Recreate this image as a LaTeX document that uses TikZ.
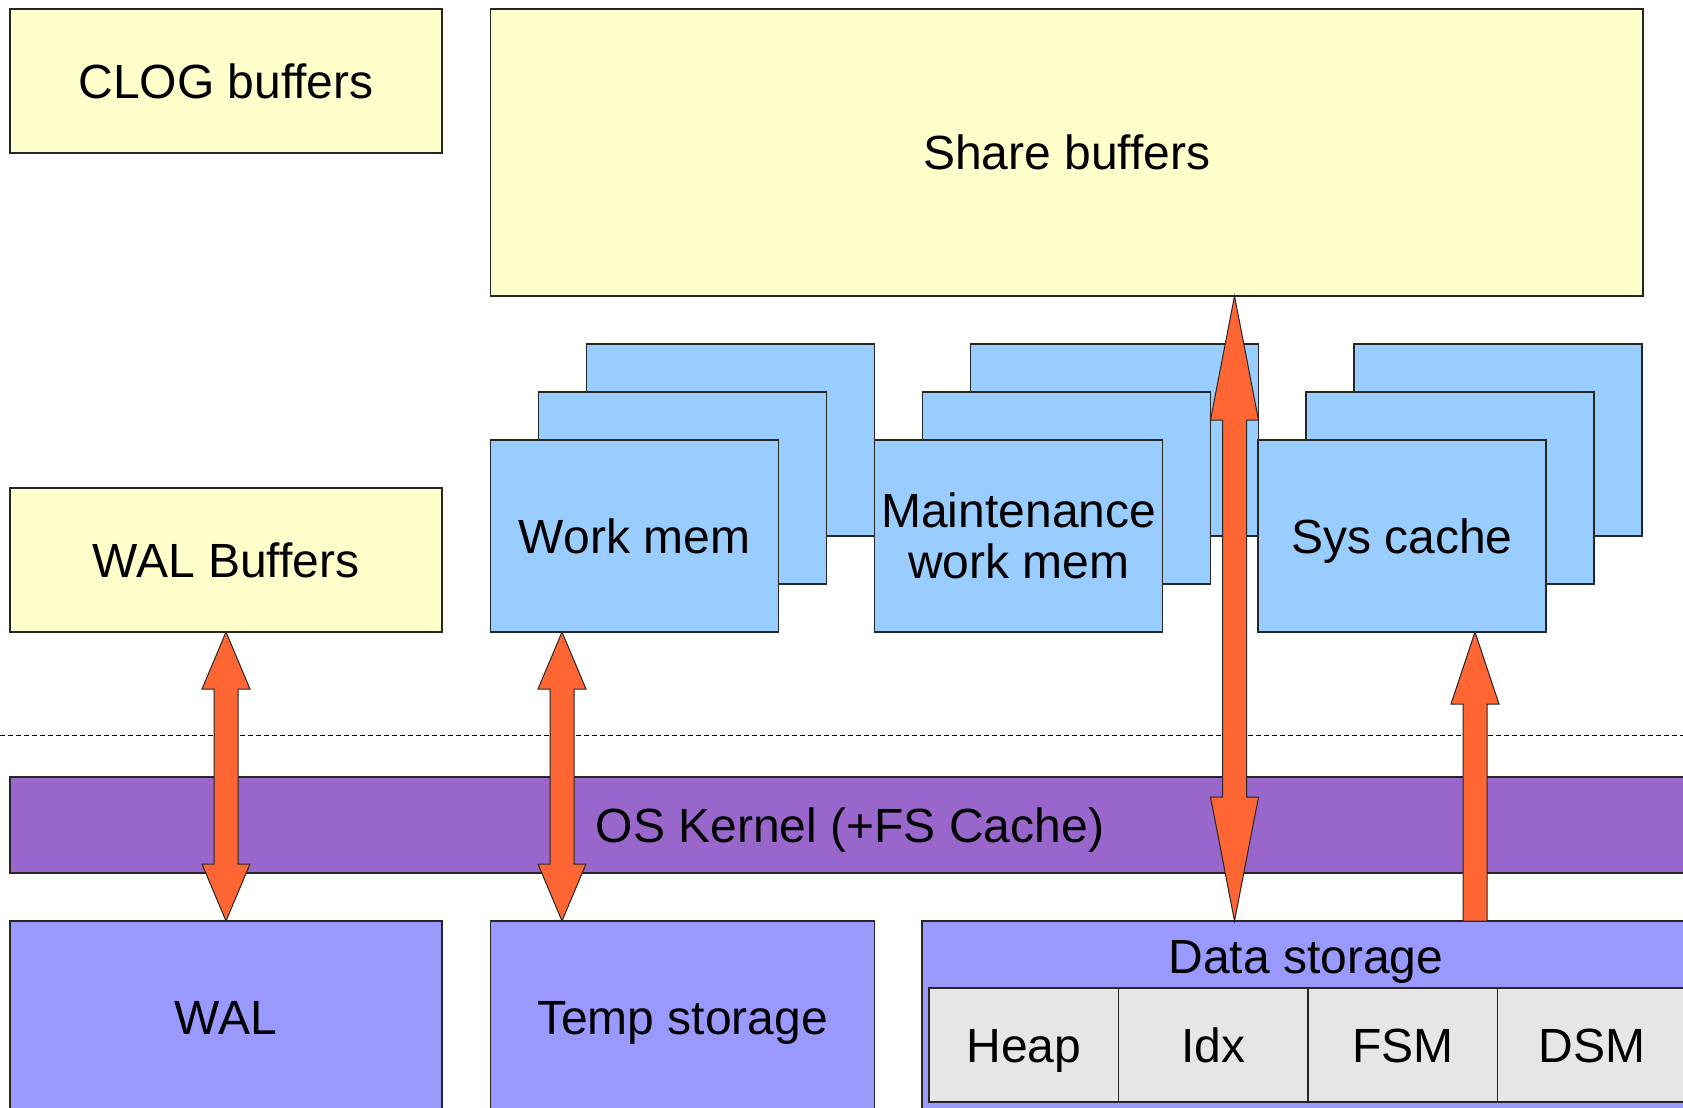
\documentclass[tikz,border=0pt]{standalone}
\usepackage{fontspec}
\setmainfont{Liberation Sans}
\usetikzlibrary{positioning, calc}

\definecolor{bufyellow}{HTML}{FFFFCC}
\definecolor{memblue}{HTML}{99CCFF}
\definecolor{kernpurple}{HTML}{9966CC}
\definecolor{diskblue}{HTML}{9999FF}
\definecolor{cellgray}{HTML}{E6E6E6}
\definecolor{floworange}{HTML}{FF6633}

% block arrows: tip at #1 and #2, head length #3
\newcommand{\twoway}[3]{%
  \draw[flow] (#1) -- ++(24,#3) -- ++(-12,0) -- ($(#2)+(12,-#3)$) -- ++(12,0) -- (#2)
    -- ++(-24,-#3) -- ++(12,0) -- ($(#1)+(-12,#3)$) -- ++(-12,0) -- cycle;}
\newcommand{\oneway}[3]{%
  \draw[flow] (#1) -- ++(24,#3) -- ++(-12,0) -- ($(#2)+(12,0)$) -- ($(#2)+(-12,0)$)
    -- ($(#1)+(-12,#3)$) -- ++(-12,0) -- cycle;}

\begin{document}
\begin{tikzpicture}[x=0.5pt, y=-0.5pt,
    box/.style={rectangle, draw=black!85, line width=0.6pt, inner sep=0pt, outer sep=0pt,
                anchor=north west, align=center, font=\fontsize{24}{25.8}\selectfont},
    one/.style={text height=17.3pt, text depth=0pt},
    buf/.style={box, one, fill=bufyellow, minimum width=216pt, minimum height=72pt},
    mem/.style={box, fill=memblue, minimum width=144pt, minimum height=96pt},
    disk/.style={box, one, fill=diskblue, minimum height=96.5pt},
    cell/.style={box, one, fill=cellgray, minimum width=94.75pt, minimum height=57pt},
    txt/.style={inner sep=0pt, font=\fontsize{24}{25.8}\selectfont},
    flow/.style={draw=black!85, line width=0.5pt, fill=floworange},
    sep/.style={draw=black, line width=0.5pt, dash pattern=on 2.3pt off 1.7pt}
]
    \useasboundingbox (0,0) rectangle (1683,1108);
    \clip (0,0) rectangle (1683,1108);

    \draw[sep] (0,735) -- (1683,735);

    \node[buf] (clog)  at (10,9)   {CLOG buffers};
    \node[buf, minimum width=576.25pt, minimum height=143.5pt] (share) at (490.5,9) {Share buffers};
    \node[buf] (wbuf)  at (10,488) {WAL Buffers};

    % stacked copies behind the memory areas
    \foreach \n/\x in {work/490.5, maint/874.7, sys/1258}
        \foreach \k in {2,1}
            \node[mem] (\n\k) at (\x+48*\k, 440-48*\k) {};
    \node[mem, one] (work)  at (490.5,440) {Work mem};
    \node[mem]      (maint) at (874.7,440) {Maintenance\\work mem};
    \node[mem, one] (sys)   at (1258,440)  {Sys cache};

    \node[box, one, fill=kernpurple, minimum width=840pt, minimum height=48pt] (kernel) at (10,777) {OS Kernel (+FS Cache)};

    \node[disk, minimum width=216pt] (wal)  at (10,921)    {WAL};
    \node[disk, minimum width=192.1pt] (temp) at (490.5,921) {Temp storage};
    \node[disk, minimum width=384pt] (data) at (922,921)  {};
    \node[txt, anchor=base] (datalbl) at ($(data.north)+(0,52)$) {Data storage};

    \node[cell] (heap) at (929,988) {Heap};
    \node[cell, right=0pt of heap] (idx) {Idx};
    \node[cell, right=0pt of idx]  (fsm) {FSM};
    \node[cell, right=0pt of fsm]  (dsm) {DSM};

    \coordinate (c2) at (562,0);
    \coordinate (c3) at (1234.5,0);
    \coordinate (c4) at (1475,0);
    \coordinate (a2t) at (work.south -| c2);
    \coordinate (a2b) at (temp.north -| c2);
    \coordinate (a3t) at (share.south -| c3);
    \coordinate (a3b) at (data.north -| c3);
    \coordinate (a4t) at (sys.south -| c4);
    \coordinate (a4b) at (data.north -| c4);

    \twoway{wbuf.south}{wal.north}{57}
    \twoway{a2t}{a2b}{57}
    \twoway{a3t}{a3b}{124}
    \oneway{a4t}{a4b}{72}
\end{tikzpicture}
\end{document}
